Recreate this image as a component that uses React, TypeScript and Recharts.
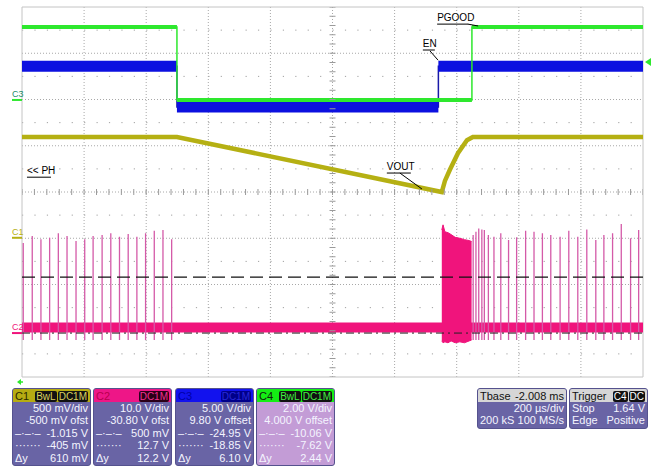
import React from "react";
import {
  ComposedChart,
  Line,
  Area,
  Scatter,
  XAxis,
  YAxis,
  CartesianGrid,
  ReferenceLine,
  ReferenceDot,
  ReferenceArea,
} from "recharts";

// x: time in µs (200 µs/div, 10 div). y: screen divisions (-4..4, 0 = centre)
const timeTicks = [0, 200, 400, 600, 800, 1000, 1200, 1400, 1600, 1800, 2000];
const divTicks = [-4, -3, -2, -1, 0, 1, 2, 3, 4];
const halfDivs = [-3.5, -2.5, -1.5, -0.5, 0.5, 1.5, 2.5, 3.5];
const minorTimeTicks = Array.from({ length: 51 }, (_, i) => i * 40);
const minorDivTicks = Array.from({ length: 41 }, (_, i) => -4 + i * 0.2);

// C4 - PGOOD
const pgoodT = [0, 499, 499, 1449, 1449, 2000];
const pgoodV = [3.57, 3.57, 1.99, 1.99, 3.57, 3.57];

// C3 - EN
const enT = [0, 499, 499, 1341, 1341, 2000];
const enV = [2.72, 2.72, 1.84, 1.84, 2.72, 2.72];

// C1 - VOUT
const voutT = [0, 499, 1352, 1362, 1378, 1404, 1433, 1452, 2000];
const voutV = [1.19, 1.19, 0.0, 0.24, 0.48, 0.84, 1.12, 1.19, 1.19];

// C2 - PH switching node
const phBase = -2.93;
const phDip = -3.2;
const phSpikeT1 = [4, 33, 61, 89, 117, 145, 174, 202, 229, 258, 286, 314, 342, 370, 398, 426, 454, 482];
const phSpikeV1 = [-1.1, -0.95, -1.02, -0.99, -0.89, -0.95, -1.06, -1.02, -0.95, -0.93, -0.89, -0.97, -0.91, -0.97, -0.89, -0.84, -0.82, -1.02];
const phSpikeT2 = [1453, 1462, 1471, 1481, 1489, 1502, 1520, 1542, 1567, 1593, 1622, 1649, 1676, 1703, 1733, 1761, 1790, 1819, 1848, 1874, 1902, 1930, 1960, 1986];
const phSpikeV2 = [-0.93, -0.86, -0.79, -0.81, -0.82, -0.93, -0.97, -0.89, -1.04, -0.98, -0.84, -0.86, -0.89, -0.93, -0.97, -0.84, -0.97, -0.81, -1.04, -0.93, -0.89, -0.69, -1.0, -0.82];
const burstT = [1352, 1356, 1362, 1372, 1382, 1395, 1410, 1425, 1440, 1448];
const burstHigh = [-0.82, -0.71, -0.86, -0.88, -0.92, -0.98, -1.0, -1.03, -1.05, -1.07];
const burstLow = [-3.22, -3.26, -3.24, -3.26, -3.22, -3.26, -3.24, -3.26, -3.22, -3.2];

// cursors
const cursorDash = -1.84;
const cursorDashDot = -3.05;

// info boxes
const channelNames = ["C1", "C2", "C3", "C4"];
const channelBadges = [["BwL", "DC1M"], ["DC1M"], ["DC1M"], ["BwL", "DC1M"]];
const rowLabels = ["", "", "–·–·–", "·······", "Δy"];
const channelRows = [
  ["500 mV/div", "-500 mV ofst", "-1.015 V", "-405 mV", "610 mV"],
  ["10.0 V/div", "-30.80 V ofst", "500 mV", "12.7 V", "12.2 V"],
  ["5.00 V/div", "9.80 V offset", "-24.95 V", "-18.85 V", "6.10 V"],
  ["2.00 V/div", "4.000 V offset", "-10.06 V", "-7.62 V", "2.44 V"],
];
const tbaseRows = [["Tbase", "-2.008 ms"], ["", "200 µs/div"], ["200 kS", "100 MS/s"]];
const triggerRows = [["Trigger", ""], ["Stop", "1.64 V"], ["Edge", "Positive"]];
const triggerBadges = ["C4", "DC"];

const FONT = "'Liberation Sans Narrow', 'Liberation Sans', Arial, sans-serif";

const GREEN = "#2ee82e";
const BLUE = "#0c10e0";
const YELLOW = "#b5b013";
const PINK = "#f0147c";
const PINK_SPIKE = "#d45aa8";

// split a step trace into flat bands (null at each vertical edge)
function bands(ts: number[], vs: number[]) {
  const out: { t: number; v: number | null }[] = [];
  ts.forEach((t, i) => {
    if (i > 0 && t === ts[i - 1]) out.push({ t, v: null });
    out.push({ t, v: vs[i] });
  });
  return out;
}
const pts = (ts: number[], vs: number[]) => ts.map((t, i) => ({ t, v: vs[i] }));

const spikeData = [
  ...phSpikeT1.map((t, i) => [t, phSpikeV1[i]]),
  ...phSpikeT2.map((t, i) => [t, phSpikeV2[i]]),
].flatMap(([t, top]) => [
  { t, v: phBase },
  { t, v: top },
  { t, v: phDip },
  { t, v: null },
]);
const burstData = burstT.map((t, i) => ({ t, r: [burstLow[i], burstHigh[i]] }));

const label = (text: string, dx: number, dy: number, ul: number, color = "#000", size = 10) =>
  (p: any) => (
    <g>
      <text x={p.cx + dx} y={p.cy + dy} fontSize={size} fontFamily={FONT} fill={color}>
        {text}
      </text>
      {ul > 0 && <line x1={p.cx + dx} x2={p.cx + dx + ul} y1={p.cy} y2={p.cy} stroke={color} strokeWidth={1} />}
    </g>
  );

const chMarker = (text: string, color: string, line: string) => (p: any) => (
  <g>
    <text x={p.cx - 10} y={p.cy - 3} fontSize={9} fontFamily={FONT} fill={color}>
      {text}
    </text>
    <line x1={p.cx - 10} x2={p.cx} y1={p.cy} y2={p.cy} stroke={line} strokeWidth={2} />
  </g>
);

function Badge({ text, bg, color }: { text: string; bg: string; color: string }) {
  return (
    <span style={{ background: bg, color, borderRadius: 2, padding: "0 1px", marginLeft: 1, lineHeight: "11px", fontSize: 10 }}>
      {text}
    </span>
  );
}

function Box({ left, width, header, headerBg, rows, bodyBg, textColor = "#f4f4ff" }: any) {
  return (
    <div
      style={{
        position: "absolute",
        left,
        top: 388,
        width,
        borderRadius: 3,
        overflow: "hidden",
        border: "1px solid #55528e",
        background: bodyBg,
        fontFamily: FONT,
        fontSize: 11,
        color: textColor,
      }}
    >
      <div style={{ background: headerBg, height: 13, display: "flex", justifyContent: "space-between", alignItems: "center", padding: "0 2px" }}>
        {header}
      </div>
      <div style={{ padding: "0 2px 1px" }}>
        {rows.map((r: string[], i: number) => (
          <div key={i} style={{ display: "flex", justifyContent: "space-between", height: 12.4, lineHeight: "12.4px", whiteSpace: "nowrap" }}>
            <span>{r[0]}</span>
            <span>{r[1]}</span>
          </div>
        ))}
      </div>
    </div>
  );
}

const chStyle = [
  { headerBg: "#b6ac12", name: "#2a2800", badgeBg: "#111", badge: "#d8d060", body: "#6964a5" },
  { headerBg: "#ee1687", name: "#b8004e", badgeBg: "#2a0018", badge: "#f03090", body: "#6964a5" },
  { headerBg: "#1212ee", name: "#0000a8", badgeBg: "#00008a", badge: "#2828d8", body: "#6964a5" },
  { headerBg: "#14ee14", name: "#102010", badgeBg: "#111", badge: "#40f040", body: "#c39cd6" },
];
const boxLefts = [12, 93, 175, 256];

export default function App() {
  return (
    <div style={{ position: "absolute", left: 0, top: 0, width: 657, height: 469, background: "#fff" }}>
      <ComposedChart width={657} height={469} margin={{ top: 7, right: 14, bottom: 92, left: 22 }}>
        <XAxis dataKey="t" type="number" domain={[0, 2000]} ticks={timeTicks} hide allowDataOverflow />
        <YAxis dataKey="v" type="number" domain={[-4, 4]} ticks={divTicks} hide allowDataOverflow />
        <CartesianGrid
          stroke="#a8a8a8"
          strokeDasharray="1 2"
          verticalValues={timeTicks.slice(1, -1)}
          horizontalValues={divTicks.slice(1, -1)}
        />
        <CartesianGrid stroke="#a0a0a0" strokeDasharray="1.2 11.22" vertical={false} horizontalValues={halfDivs} />
        <ReferenceArea x1={0} x2={2000} y1={-4} y2={4} fill="none" stroke="#c4c4c4" strokeWidth={1} fillOpacity={0} />

        <Scatter
          data={minorTimeTicks.map((t) => ({ t, v: 0 }))}
          dataKey="v"
          isAnimationActive={false}
          shape={(p: any) => <line x1={p.cx} x2={p.cx} y1={p.cy - 3} y2={p.cy + 3} stroke="#9a9a9a" strokeWidth={1} />}
        />
        <Scatter
          data={minorDivTicks.map((v) => ({ t: 1000, v }))}
          dataKey="v"
          isAnimationActive={false}
          shape={(p: any) => <line x1={p.cx - 3} x2={p.cx + 3} y1={p.cy} y2={p.cy} stroke="#9a9a9a" strokeWidth={1} />}
        />

        {/* C2 PH */}
        <Line data={[{ t: 0, v: phBase }, { t: 2000, v: phBase }]} dataKey="v" stroke={PINK} strokeWidth={10} dot={false} activeDot={false} isAnimationActive={false} />
        <Line data={spikeData} dataKey="v" stroke={PINK_SPIKE} strokeWidth={1.3} dot={false} activeDot={false} isAnimationActive={false} />
        <Area data={burstData} dataKey="r" type="linear" stroke={PINK} strokeWidth={1} fill={PINK} fillOpacity={1} dot={false} activeDot={false} isAnimationActive={false} />

        {/* C1 VOUT */}
        <Line data={pts(voutT, voutV)} dataKey="v" stroke={YELLOW} strokeWidth={4.5} dot={false} activeDot={false} isAnimationActive={false} />

        {/* C3 EN */}
        <Line data={pts(enT, enV)} dataKey="v" stroke="#1a1aa8" strokeWidth={1.5} dot={false} activeDot={false} isAnimationActive={false} />
        <Line data={bands(enT, enV)} dataKey="v" stroke={BLUE} strokeWidth={11} dot={false} activeDot={false} isAnimationActive={false} />

        {/* C4 PGOOD */}
        <Line data={pts(pgoodT, pgoodV)} dataKey="v" stroke={GREEN} strokeWidth={1.5} dot={false} activeDot={false} isAnimationActive={false} />
        <Line data={bands(pgoodT, pgoodV)} dataKey="v" stroke={GREEN} strokeWidth={4} dot={false} activeDot={false} isAnimationActive={false} />

        {/* cursors */}
        <ReferenceLine y={cursorDash} stroke="#111" strokeWidth={1.3} strokeDasharray="13 6" />
        <ReferenceLine y={cursorDashDot} stroke="#222" strokeWidth={1} strokeDasharray="8 4 2 4" />

        {/* annotations */}
        <ReferenceLine segment={[{ x: 1217, y: 0.41 }, { x: 1288, y: 0.065 }]} stroke="#000" strokeWidth={1} />
        <ReferenceLine segment={[{ x: 1314, y: 3.05 }, { x: 1340, y: 2.85 }]} stroke="#000" strokeWidth={1} />
        <ReferenceLine segment={[{ x: 1436, y: 3.63 }, { x: 1469, y: 3.59 }]} stroke="#000" strokeWidth={1} />
        <ReferenceDot x={16} y={0.32} shape={label("<< PH", 0, -3, 24)} />
        <ReferenceDot x={1175} y={0.41} shape={label("VOUT", 0, -3, 24)} />
        <ReferenceDot x={1291} y={3.07} shape={label("EN", 0, -3, 12)} />
        <ReferenceDot x={1337} y={3.63} shape={label("PGOOD", 0, -3, 31)} />

        {/* channel offset markers */}
        <ReferenceDot x={0} y={1.99} ifOverflow="visible" shape={chMarker("C3", "#1c8c6a", GREEN)} />
        <ReferenceDot x={0} y={-0.99} ifOverflow="visible" shape={chMarker("C1", YELLOW, YELLOW)} />
        <ReferenceDot x={0} y={-3.05} ifOverflow="visible" shape={chMarker("C2", PINK, PINK)} />
        <ReferenceDot
          x={2000}
          y={2.81}
          ifOverflow="visible"
          shape={(p: any) => <polygon points={`${p.cx + 2},${p.cy} ${p.cx + 8},${p.cy - 4} ${p.cx + 8},${p.cy + 4}`} fill={GREEN} />}
        />
        <ReferenceDot
          x={0}
          y={-4}
          ifOverflow="visible"
          shape={(p: any) => (
            <g>
              <polygon points={`${p.cx - 5},${p.cy + 5} ${p.cx - 1},${p.cy + 2} ${p.cx - 1},${p.cy + 8}`} fill={GREEN} />
              <line x1={p.cx - 2} x2={p.cx + 1} y1={p.cy + 5} y2={p.cy + 5} stroke={GREEN} strokeWidth={1.5} />
            </g>
          )}
        />
      </ComposedChart>

      {channelNames.map((name, i) => {
        const s = chStyle[i];
        return (
          <Box
            key={name}
            left={boxLefts[i]}
            width={77}
            headerBg={s.headerBg}
            bodyBg={s.body}
            header={
              <>
                <span style={{ color: s.name }}>{name}</span>
                <span>
                  {channelBadges[i].map((b) => (
                    <Badge key={b} text={b} bg={s.badgeBg} color={s.badge} />
                  ))}
                </span>
              </>
            }
            rows={channelRows[i].map((v, j) => [rowLabels[j], v])}
          />
        );
      })}

      <Box
        left={477}
        width={88}
        headerBg="#d6d6d6"
        bodyBg="#6964a5"
        header={
          <>
            <span style={{ color: "#111" }}>{tbaseRows[0][0]}</span>
            <span style={{ color: "#111" }}>{tbaseRows[0][1]}</span>
          </>
        }
        rows={tbaseRows.slice(1)}
      />
      <Box
        left={569}
        width={77}
        headerBg="#d6d6d6"
        bodyBg="#6964a5"
        header={
          <>
            <span style={{ color: "#111" }}>{triggerRows[0][0]}</span>
            <span>
              {triggerBadges.map((b) => (
                <Badge key={b} text={b} bg="#111" color="#fff" />
              ))}
            </span>
          </>
        }
        rows={triggerRows.slice(1)}
      />
    </div>
  );
}
